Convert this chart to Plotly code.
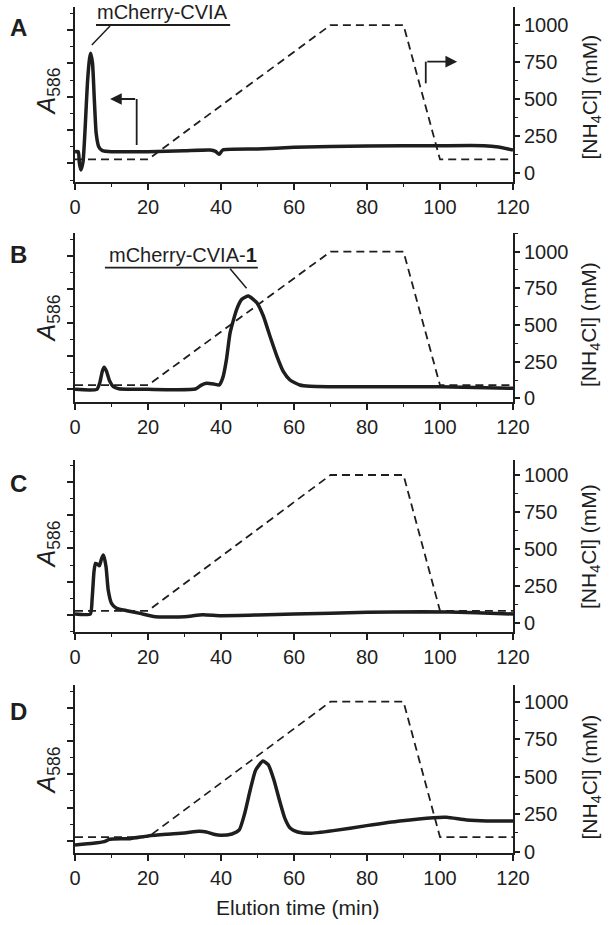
import plotly.graph_objects as go

# ---------------- data ----------------
GRAD_T = [0, 20, 70, 90, 100, 120]
NH4CL_A = [92, 92, 1000, 1000, 92, 92]
NH4CL_B = [90, 90, 1000, 1000, 90, 90]
NH4CL_C = [85, 85, 1000, 1000, 85, 85]
NH4CL_D = [97, 97, 1000, 1000, 97, 97]

T_A = [0, 0.9, 1.2, 1.6, 2.2, 2.8, 3.4, 4.0, 4.3, 4.8, 5.3, 5.8, 6.5, 7.5, 10, 20, 30, 37, 38.5, 39.5, 40.5, 50, 60, 80, 100, 112, 116, 120]
A_A = [0.035, 0.035, 0.0, -0.02, 0.005, 0.11, 0.24, 0.315, 0.33, 0.30, 0.19, 0.09, 0.05, 0.038, 0.035, 0.035, 0.038, 0.04, 0.036, 0.027, 0.04, 0.043, 0.048, 0.052, 0.053, 0.053, 0.049, 0.04]

T_B = [0, 6, 6.8, 7.5, 8, 8.6, 9.5, 10.5, 12, 20, 33, 34.5, 36, 38, 39.5, 40.5, 41.5, 42.5, 44.3, 45.7, 47.5, 49.8, 51.6, 53.4, 55.3, 57.1, 58.9, 61.6, 64.4, 70, 100, 120]
A_B = [0, 0, 0.02, 0.055, 0.066, 0.055, 0.025, 0.008, 0.002, 0.0, 0.001, 0.012, 0.018, 0.016, 0.013, 0.035, 0.09, 0.17, 0.24, 0.27, 0.28, 0.26, 0.22, 0.16, 0.10, 0.053, 0.028, 0.013, 0.009, 0.008, 0.008, 0.003]

T_C = [0, 4.2, 4.7, 5.2, 5.6, 6.2, 6.7, 7.3, 7.8, 8.5, 9.1, 10, 11.4, 14.2, 17.8, 22, 30, 35, 40, 50, 60, 80, 95, 110, 120]
A_C = [0.003, 0.003, 0.05, 0.13, 0.155, 0.152, 0.148, 0.17, 0.18, 0.145, 0.075, 0.035, 0.02, 0.013, 0.005, -0.005, -0.005, 0.001, -0.002, 0.0, 0.003, 0.008, 0.01, 0.007, 0.003]

T_D = [0, 5, 8, 9.5, 15, 20, 25, 30, 34, 36, 38, 40, 43, 45, 46.5, 48, 49.5, 51.5, 53, 54.5, 56, 57.5, 59, 61, 64.4, 70.8, 79.9, 89, 98.2, 101.8, 107.3, 112.8, 120]
A_D = [-0.012, -0.007, -0.002, 0.005, 0.007, 0.015, 0.02, 0.024, 0.029, 0.027, 0.02, 0.017, 0.021, 0.033, 0.083, 0.153, 0.213, 0.24, 0.228, 0.183, 0.123, 0.068, 0.038, 0.027, 0.023, 0.031, 0.046, 0.06, 0.07, 0.071, 0.063, 0.06, 0.06]

PANEL_LETTERS = ["A", "B", "C", "D"]
X_TICKS = [0, 20, 40, 60, 80, 100, 120]
NH4_TICKS = [0, 250, 500, 750, 1000]

# ---------------- layout geometry ----------------
W, H = 615, 925
X_DOM = [75 / W, 513 / W]
PANELS = [  # (top px, bottom px, left range, right range)
    (7, 182, [-0.056, 0.469], [-61, 1122]),
    (233.3, 401.7, [-0.037, 0.468], [-22.5, 1125]),
    (460, 631.7, [-0.05, 0.465], [-56, 1101]),
    (685, 853.3, [-0.037, 0.468], [-11, 1111]),
]
SERIES = [(T_A, A_A, NH4CL_A), (T_B, A_B, NH4CL_B), (T_C, A_C, NH4CL_C), (T_D, A_D, NH4CL_D)]

INK = "#1e1e1e"
FONT = "Liberation Sans, Arial, sans-serif"
TICKFONT = dict(size=20, family=FONT, color=INK)

fig = go.Figure()
layout = dict(
    width=W, height=H, margin=dict(l=0, r=0, t=0, b=0, autoexpand=False),
    paper_bgcolor="white", plot_bgcolor="white", showlegend=False,
    font=dict(family=FONT, color=INK, size=18),
)
annotations = []
shapes = []


def paper_text(text, x, y, size, angle=0):
    return dict(text=text, xref="paper", yref="paper", x=x / W, y=1 - y / H,
                xanchor="center", yanchor="middle", showarrow=False, textangle=angle,
                font=dict(size=size, family=FONT, color=INK))


for i, ((top, bot, lrange, rrange), (t, a, nh)) in enumerate(zip(PANELS, SERIES)):
    n = i + 1
    xa = "x" if n == 1 else f"x{n}"
    yl = f"y{2*n-1}" if n > 1 else "y"
    yr = f"y{2*n}"
    dom = [1 - bot / H, 1 - top / H]

    fig.add_trace(go.Scatter(x=GRAD_T, y=nh, xaxis=xa, yaxis=yr, mode="lines",
                             line=dict(color=INK, width=1.8, dash="8px,5px")))
    fig.add_trace(go.Scatter(x=t, y=a, xaxis=xa, yaxis=yl, mode="lines",
                             line=dict(color=INK, width=3.5, shape="spline", smoothing=0.5)))

    xkey = "xaxis" if n == 1 else f"xaxis{n}"
    ylkey = "yaxis" if n == 1 else f"yaxis{2*n-1}"
    yrkey = f"yaxis{2*n}"
    layout[xkey] = dict(domain=X_DOM, anchor=yl, range=[0, 120], tickvals=X_TICKS,
                        automargin=False,
                        ticks="outside", ticklen=6, tickwidth=1.5, tickcolor=INK,
                        showline=True, linewidth=1.8, linecolor=INK, showgrid=False, zeroline=False,
                        tickfont=TICKFONT,
                        minor=dict(dtick=10, tick0=0, ticks="outside", ticklen=3, tickwidth=1.3,
                                   tickcolor=INK, showgrid=False))
    layout[ylkey] = dict(domain=dom, anchor=xa, range=lrange, tick0=0, dtick=0.1,
                         automargin=False,
                         ticks="outside", ticklen=6, tickwidth=1.5, tickcolor=INK,
                         showticklabels=False, showline=True, linewidth=1.8, linecolor=INK,
                         showgrid=False, zeroline=False,
                         minor=dict(dtick=0.05, tick0=0, ticks="outside", ticklen=3, tickwidth=1.3,
                                    tickcolor=INK, showgrid=False))
    layout[yrkey] = dict(domain=dom, anchor=xa, overlaying=yl, side="right", range=rrange,
                         automargin=False,
                         tickvals=NH4_TICKS, ticks="outside", ticklen=5, tickwidth=1.5, tickcolor=INK,
                         showline=True, linewidth=1.8, linecolor=INK, showgrid=False, zeroline=False,
                         tickfont=TICKFONT,
                         minor=dict(dtick=125, tick0=0, ticks="outside", ticklen=3, tickwidth=1.3,
                                    tickcolor=INK, showgrid=False))

    annotations.append(paper_text(f"<b>{PANEL_LETTERS[i]}</b>", 18, [27, 254, 483, 711][i], 24))
    annotations.append(paper_text("<i>A</i><sub>586</sub>", 47.5, [92, 319, 545, 771][i], 25, -90))
    annotations.append(paper_text("[NH<sub>4</sub>Cl] (mM)", 590, [97.5, 325, 547, 777.5][i], 21, -90))

# x axis title
annotations.append(paper_text("Elution time (min)", 297, 907, 21))

# Panel A labels / arrows
annotations.append(dict(text="mCherry-CVIA", xref="x", yref="y", x=24.1, y=0.415,
                        xanchor="center", yanchor="bottom", showarrow=False, yshift=0,
                        font=dict(size=20, family=FONT, color=INK)))
shapes.append(dict(type="line", xref="x", yref="y", x0=5.75, x1=42.5, y0=0.415, y1=0.415,
                   line=dict(color=INK, width=1.8)))
shapes.append(dict(type="line", xref="x", yref="y", x0=4.6, x1=9.6, y0=0.355, y1=0.412,
                   line=dict(color=INK, width=1.5)))
# left-pointing arrow
shapes.append(dict(type="line", xref="x", yref="y", x0=16.9, x1=16.9, y0=0.055, y1=0.193,
                   line=dict(color=INK, width=1.8)))
annotations.append(dict(text="", xref="x", yref="y", x=9.6, y=0.193, ax=16.9, ay=0.193,
                        axref="x", ayref="y", showarrow=True, arrowhead=2, arrowsize=1.3,
                        arrowwidth=1.8, arrowcolor=INK))
# right-pointing arrow
shapes.append(dict(type="line", xref="x", yref="y", x0=96.1, x1=96.1, y0=0.24, y1=0.305,
                   line=dict(color=INK, width=1.8)))
annotations.append(dict(text="", xref="x", yref="y", x=104.7, y=0.305, ax=96.1, ay=0.305,
                        axref="x", ayref="y", showarrow=True, arrowhead=2, arrowsize=1.3,
                        arrowwidth=1.8, arrowcolor=INK))

# Panel B labels
annotations.append(dict(text="mCherry-CVIA-<b>1</b>", xref="x2", yref="y3", x=29.5, y=0.365,
                        xanchor="center", yanchor="bottom", showarrow=False, yshift=0,
                        font=dict(size=20, family=FONT, color=INK)))
shapes.append(dict(type="line", xref="x2", yref="y3", x0=8.2, x1=50.1, y0=0.365, y1=0.365,
                   line=dict(color=INK, width=1.8)))
shapes.append(dict(type="line", xref="x2", yref="y3", x0=42.5, x1=47.0, y0=0.362, y1=0.303,
                   line=dict(color=INK, width=1.5)))

layout["annotations"] = annotations
layout["shapes"] = shapes
fig.update_layout(**layout)
fig.write_html("out.html", config={"displayModeBar": False},
               post_script="document.body.style.margin='0';")
